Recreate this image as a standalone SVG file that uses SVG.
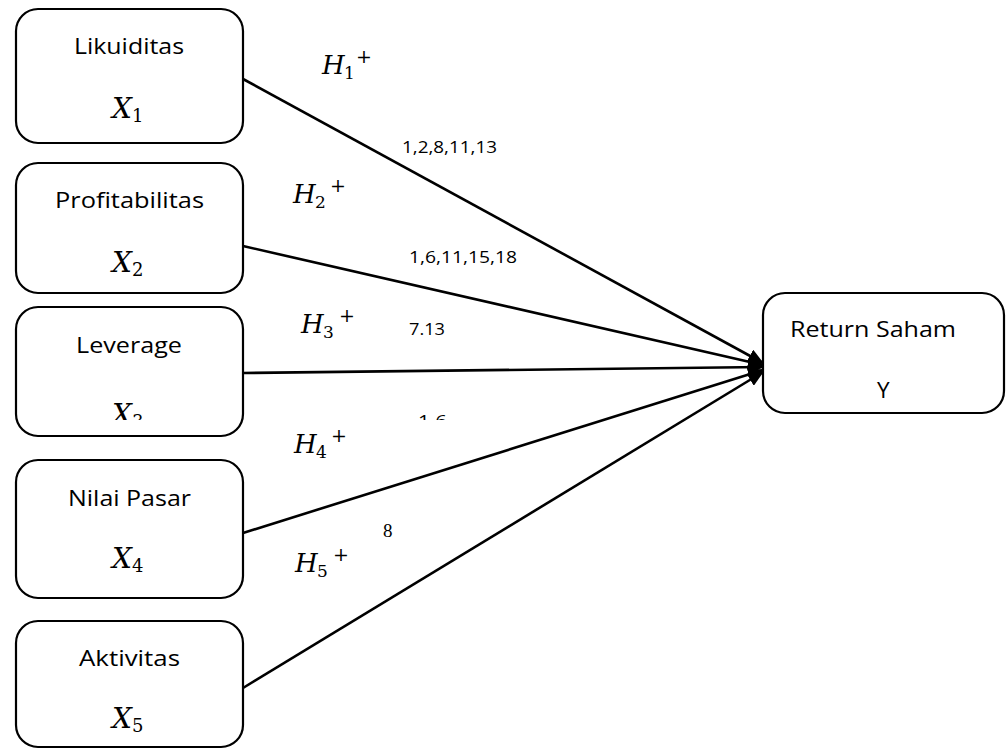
<svg xmlns="http://www.w3.org/2000/svg" width="1006" height="749" viewBox="0 0 1006 749">
<style>
.box{fill:#fff;stroke:#000;stroke-width:2.2}
.lbl{font-family:"Open Sans","Liberation Sans",sans-serif;font-size:22.5px;fill:#000}
.num{font-family:"Open Sans","Liberation Sans",sans-serif;font-size:17px;fill:#000}
.mi{font-family:"DejaVu Serif","Liberation Serif",serif;font-style:italic;fill:#000}
.mu{font-family:"DejaVu Serif","Liberation Serif",serif;fill:#000}
.ser{font-family:"Liberation Serif",serif;font-size:19px;fill:#000}
.edge{stroke:#000;stroke-width:2.6;fill:none;marker-end:url(#arr)}
</style>
<defs>
<marker id="arr" markerUnits="userSpaceOnUse" markerWidth="16" markerHeight="14" refX="15" refY="7" orient="auto">
<path d="M0,0 L16,7 L0,14 z" fill="#000"/>
</marker>
<clipPath id="cut"><rect x="0" y="0" width="1006" height="420"/></clipPath>
</defs>
<rect width="1006" height="749" fill="#fff"/>
<g id="connectors">
<line class="edge" x1="243" y1="79" x2="763" y2="363"/>
<line class="edge" x1="243" y1="246" x2="763" y2="365"/>
<line class="edge" x1="243" y1="373" x2="763" y2="367"/>
<line class="edge" x1="243" y1="533" x2="763" y2="370"/>
<line class="edge" x1="243" y1="688" x2="763" y2="372"/>
</g>
<g id="node-x1">
<rect class="box" x="16" y="9" width="227" height="134" rx="22"/>
<text class="lbl" x="74" y="54" textLength="110" lengthAdjust="spacingAndGlyphs">Likuiditas</text>
<text class="mi" x="112" y="118" font-size="28">X</text><text class="mu" x="132" y="122" font-size="18">1</text>
</g>
<g id="node-x2">
<rect class="box" x="16" y="163" width="227" height="130" rx="22"/>
<text class="lbl" x="55" y="208" textLength="149" lengthAdjust="spacingAndGlyphs">Profitabilitas</text>
<text class="mi" x="112" y="272" font-size="28">X</text><text class="mu" x="132" y="276" font-size="18">2</text>
</g>
<g id="node-x3">
<rect class="box" x="16" y="307" width="227" height="129" rx="22"/>
<text class="lbl" x="76" y="353" textLength="106" lengthAdjust="spacingAndGlyphs">Leverage</text>
<g clip-path="url(#cut)">
<text class="mi" x="112" y="424" font-size="28">X</text><text class="mu" x="132" y="428" font-size="18">3</text>
</g>
</g>
<g id="node-x4">
<rect class="box" x="16" y="460" width="227" height="138" rx="22"/>
<text class="lbl" x="68" y="506" textLength="123" lengthAdjust="spacingAndGlyphs">Nilai Pasar</text>
<text class="mi" x="112" y="568" font-size="28">X</text><text class="mu" x="132" y="572" font-size="18">4</text>
</g>
<g id="node-x5">
<rect class="box" x="16" y="621" width="227" height="126" rx="22"/>
<text class="lbl" x="79" y="666" textLength="101" lengthAdjust="spacingAndGlyphs">Aktivitas</text>
<text class="mi" x="112" y="728" font-size="28">X</text><text class="mu" x="132" y="732" font-size="18">5</text>
</g>
<g id="node-y">
<rect class="box" x="763" y="293" width="241" height="120" rx="22"/>
<text class="lbl" x="790" y="337" textLength="166" lengthAdjust="spacingAndGlyphs">Return Saham</text>
<text class="lbl" x="877" y="398">Y</text>
</g>
<g id="edge-labels">
<text class="mi" x="322" y="74" font-size="26">H</text><text class="mu" x="344" y="79" font-size="17">1</text><text class="mu" x="356" y="63" font-size="19">+</text>
<text class="num" x="402" y="153" textLength="95" lengthAdjust="spacingAndGlyphs">1,2,8,11,13</text>
<text class="mi" x="293" y="203" font-size="26">H</text><text class="mu" x="315" y="208" font-size="17">2</text><text class="mu" x="330" y="192" font-size="19">+</text>
<text class="num" x="409" y="263" textLength="108" lengthAdjust="spacingAndGlyphs">1,6,11,15,18</text>
<text class="mi" x="301" y="333" font-size="26">H</text><text class="mu" x="323" y="338" font-size="17">3</text><text class="mu" x="339" y="322" font-size="19">+</text>
<text class="num" x="409" y="335" textLength="36" lengthAdjust="spacingAndGlyphs">7.13</text>
<g clip-path="url(#cut)"><text class="num" x="418" y="427" textLength="29" lengthAdjust="spacingAndGlyphs">1.6</text></g>
<text class="mi" x="294" y="453" font-size="26">H</text><text class="mu" x="316" y="458" font-size="17">4</text><text class="mu" x="331" y="442" font-size="19">+</text>
<text class="ser" x="383" y="537">8</text>
<text class="mi" x="295" y="572" font-size="26">H</text><text class="mu" x="317" y="577" font-size="17">5</text><text class="mu" x="333" y="561" font-size="19">+</text>
</g>
</svg>
